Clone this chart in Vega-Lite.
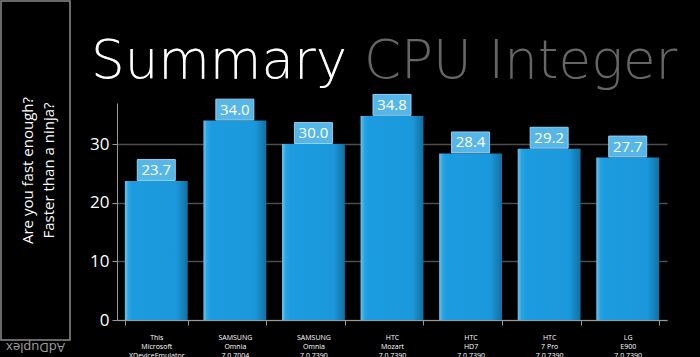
{
  "$schema": "https://vega.github.io/schema/vega-lite/v6.json",
  "background": "black",
  "padding": {"left": 0, "top": 0, "right": 40, "bottom": 0},
  "spacing": 18,
  "config": {"view": {"stroke": null}, "font": "Open Sans"},
  "hconcat": [
    {
      "width": 69,
      "height": 339,
      "view": {"stroke": "#8a8a8a", "strokeWidth": 1.5},
      "title": {"text": "AdDuplex", "orient": "bottom", "angle": 180, "baseline": "bottom", "fontSize": 13, "fontWeight": "normal", "color": "#a0a0a0", "font": "Open Sans", "offset": 0},
      "data": {"values": [{"k": 1}]},
      "mark": {"type": "text", "text": ["Are you fast enough?", "Faster than a ninja?"], "angle": 270, "fontSize": 15, "lineHeight": 21, "dy": -8, "color": "white", "align": "center", "baseline": "middle", "font": "Open Sans"}
    },
    {
      "spacing": 3,
      "vconcat": [
        {
          "width": 550,
          "height": 0,
          "data": {"values": []},
          "mark": {"type": "text"},
          "title": {
            "text": "Summary CPU Integer",
            "subtitle": "Summary",
            "orient": "bottom",
            "anchor": "start",
            "frame": "group",
            "dx": -26,
            "font": "DejaVu Sans",
            "fontSize": 53,
            "fontWeight": 200,
            "color": "#666666",
            "subtitleFont": "DejaVu Sans",
            "subtitleFontSize": 53,
            "subtitleFontWeight": 200,
            "subtitleColor": "white",
            "subtitlePadding": -53,
            "offset": 15
          }
        },
        {
          "width": 550,
          "height": 217,
          "data": {"values": [
            {"device": "This|Microsoft|XDeviceEmulator|7.0.7389", "value": 23.7},
            {"device": "SAMSUNG|Omnia|7.0.7004", "value": 34.0},
            {"device": "SAMSUNG|Omnia|7.0.7390", "value": 30.0},
            {"device": "HTC|Mozart|7.0.7390", "value": 34.8},
            {"device": "HTC|HD7|7.0.7390", "value": 28.4},
            {"device": "HTC|7 Pro|7.0.7390", "value": 29.2},
            {"device": "LG|E900|7.0.7390", "value": 27.7}
          ]},
          "encoding": {
            "x": {"field": "device", "type": "nominal", "sort": null, "title": null,
              "scale": {"paddingInner": 0.2},
              "axis": {"labelExpr": "split(datum.label, '|')", "labelAngle": 0, "labelFontSize": 7, "labelLineHeight": 9, "labelColor": "white", "labelBaseline": "middle", "labelPadding": 12, "tickBand": "extent", "tickSize": 5, "tickColor": "#999", "domainColor": "#999", "labelFont": "Open Sans"}},
            "y": {"field": "value", "type": "quantitative", "title": null,
              "scale": {"domain": [0, 37], "nice": false},
              "axis": {"values": [0, 10, 20, 30], "labelFontSize": 17, "labelColor": "white", "tickSize": 5, "tickColor": "#999", "domainColor": "#999", "gridColor": "#4d4d4d", "gridWidth": 1.5, "labelPadding": 3, "labelFont": "Open Sans"}}
          },
          "layer": [
            {"mark": {"type": "bar", "color": {"gradient": "linear", "x1": 0, "x2": 1, "y1": 0, "y2": 0, "stops": [
              {"offset": 0, "color": "#6cc4f0"}, {"offset": 0.06, "color": "#2aa3e2"}, {"offset": 0.12, "color": "#1c9ce0"}, {"offset": 0.82, "color": "#1b98db"}, {"offset": 1, "color": "#146f9f"}]}}},
            {"mark": {"type": "point", "shape": "M-1,-0.55H1V0.55H-1Z", "size": 1444, "filled": true, "opacity": 1, "fill": "#56b6e8", "stroke": "#8fd2f2", "strokeWidth": 1, "yOffset": -11}},
            {"mark": {"type": "text", "color": "white", "fontSize": 15, "yOffset": -11, "baseline": "middle", "font": "Open Sans"},
             "encoding": {"text": {"field": "value", "type": "quantitative", "format": ".1f"}}}
          ]
        }
      ]
    }
  ]
}
